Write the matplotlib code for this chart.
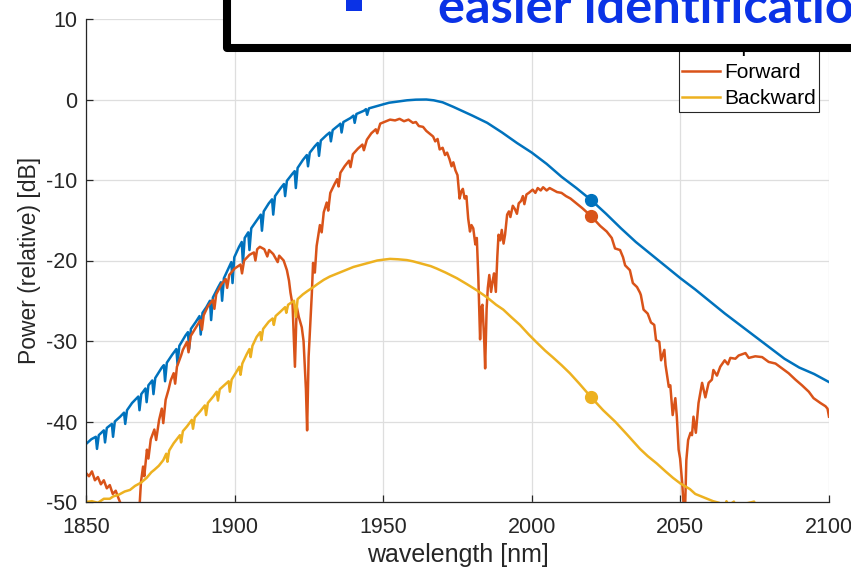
import matplotlib
matplotlib.use("Agg")
import matplotlib.pyplot as plt
from matplotlib.patches import Rectangle

# ---------------- data ----------------
input_wl = [1850.0, 1851.8, 1853.3, 1853.7, 1854.3, 1856.0, 1856.4, 1857.0,
            1858.7, 1859.1, 1859.7, 1861.5, 1862.8, 1863.2, 1863.8,
            1865.5, 1867.6, 1868.0, 1868.6, 1870.0, 1870.4, 1871.0,
            1872.3, 1872.7, 1873.3, 1875.5, 1876.2, 1876.6, 1877.2,
            1879.0, 1880.4, 1880.8, 1881.4, 1883.5, 1884.3, 1884.7, 1885.3,
            1887.0, 1888.2, 1888.6, 1889.2, 1890.5, 1891.7, 1892.1, 1892.7,
            1894.5, 1895.4, 1895.8, 1896.4, 1898.0, 1898.9, 1899.3, 1899.9,
            1901.5, 1902.4, 1902.8, 1903.4, 1904.6, 1905.0, 1905.6,
            1907.5, 1908.8, 1909.2, 1909.8, 1911.5, 1912.6, 1913.0, 1913.6,
            1915.5, 1916.6, 1917.0, 1917.6, 1919.5, 1920.2, 1920.6, 1921.2,
            1923.0, 1924.3, 1924.7, 1925.3, 1927.0, 1928.0, 1928.4, 1929.0,
            1931.0, 1932.0, 1932.4, 1933.0, 1935.0, 1935.6, 1936.0, 1936.6,
            1939.0, 1940.0, 1940.4, 1941.0, 1943.5, 1944.2, 1944.6, 1945.2,
            1948.0, 1950.0, 1952.0, 1955.0, 1958.0, 1961.0, 1964.5, 1967.0,
            1970.0, 1973.5, 1977.0, 1980.0, 1985.0, 1990.0, 1995.0, 2000.0,
            2005.0, 2010.0, 2015.0, 2020.0, 2025.0, 2030.0, 2035.0, 2040.0,
            2045.0, 2050.0, 2055.0, 2060.0, 2065.0, 2070.0, 2075.0, 2080.0,
            2085.0, 2090.0, 2095.0, 2100.0]
input_db = [-42.8, -42.2, -41.9, -43.4, -41.7, -41.1, -42.6, -40.8,
            -40.3, -41.9, -40.0, -39.4, -38.9, -40.3, -38.6,
            -37.7, -36.9, -38.6, -36.6, -35.9, -37.6, -35.5,
            -34.9, -36.6, -34.6, -33.3, -33.0, -35.0, -32.7,
            -31.7, -31.0, -32.9, -30.6, -29.3, -28.9, -31.0, -28.5,
            -27.6, -26.9, -29.2, -26.5, -25.8, -25.0, -27.4, -24.6,
            -23.3, -22.7, -25.0, -22.2, -20.9, -20.2, -22.8, -19.6,
            -18.3, -17.7, -20.3, -17.2, -16.5, -18.7, -16.0,
            -15.0, -14.3, -16.3, -13.9, -12.9, -12.4, -14.3, -12.0,
            -11.0, -10.5, -12.0, -10.1, -9.2, -8.9, -11.0, -8.5,
            -7.5, -6.9, -8.3, -6.6, -5.8, -5.4, -7.0, -5.1,
            -4.4, -4.1, -5.2, -3.8, -3.2, -3.0, -4.1, -2.8,
            -2.3, -2.0, -2.9, -1.8, -1.4, -1.2, -1.9, -1.1,
            -0.8, -0.6, -0.4, -0.25, -0.1, -0.02, 0.0, -0.1,
            -0.35, -0.9, -1.5, -2.0, -2.9, -4.1, -5.4, -6.6,
            -8.0, -9.6, -11.0, -12.5, -14.2, -16.0, -17.7, -19.2,
            -20.7, -22.2, -23.6, -25.1, -26.6, -28.0, -29.4, -30.8,
            -32.2, -33.3, -34.1, -35.1]

forward_wl = [1850.0, 1851.0, 1852.0, 1853.0, 1854.0, 1855.0, 1856.0, 1857.0,
              1858.0, 1859.0, 1860.0, 1861.0, 1862.0, 1863.0, 1864.5, 1865.5,
              1866.5, 1867.2, 1868.0, 1868.5, 1869.2, 1869.6, 1870.5, 1871.0,
              1871.8, 1873.0, 1873.6, 1874.6, 1875.5, 1876.0, 1876.8, 1877.8,
              1878.5, 1879.5, 1880.0, 1880.6, 1882.0, 1882.6, 1884.0, 1884.5,
              1885.2, 1887.0, 1888.5, 1889.0, 1889.6, 1891.0, 1892.7, 1893.2,
              1893.8, 1895.5, 1897.0, 1897.5, 1898.2, 1900.0, 1902.0, 1902.5,
              1903.2, 1905.0, 1906.5, 1907.0, 1907.6, 1908.5, 1910.0, 1911.0,
              1911.6, 1913.0, 1914.5, 1915.0, 1916.5, 1917.6, 1918.3, 1918.8,
              1919.5, 1920.3, 1920.9, 1921.6, 1922.6, 1923.2, 1924.0, 1924.4,
              1924.9, 1925.4, 1926.0, 1926.4, 1927.0, 1927.6, 1928.7, 1929.3,
              1930.0, 1931.0, 1931.5, 1932.2, 1933.5, 1934.5, 1935.0, 1935.6,
              1937.0, 1938.5, 1939.0, 1939.8, 1941.5, 1943.0, 1943.5, 1944.5,
              1946.0, 1947.5, 1948.0, 1949.0, 1951.0, 1952.3, 1954.0, 1955.5,
              1957.0, 1958.5, 1960.0, 1961.0, 1962.0, 1963.4, 1964.5, 1965.5,
              1966.8, 1967.5, 1968.3, 1969.0, 1970.0, 1970.8, 1971.5, 1972.3,
              1973.0, 1973.6, 1974.3, 1975.0, 1975.7, 1976.3, 1976.8, 1977.4,
              1978.0, 1978.6, 1979.2, 1979.7, 1980.3, 1981.0, 1981.5, 1982.0,
              1982.6, 1983.0, 1983.4, 1984.0, 1984.3, 1984.8, 1985.2, 1985.7,
              1986.3, 1986.8, 1987.3, 1987.9, 1988.4, 1988.8, 1989.4, 1989.9,
              1990.5, 1991.0, 1991.7, 1992.3, 1992.8, 1993.6, 1994.3, 1995.0,
              1995.6, 1996.4, 1997.0, 1997.5, 1998.2, 1999.0, 2000.3, 2001.2,
              2002.0, 2003.0, 2003.8, 2005.0, 2006.0, 2007.0, 2008.5, 2010.0,
              2011.5, 2013.0, 2015.0, 2017.0, 2018.5, 2020.0, 2021.5, 2023.0,
              2025.2, 2026.9, 2028.0, 2029.7, 2030.7, 2031.4, 2033.0, 2034.0,
              2035.4, 2036.4, 2036.7, 2037.6, 2039.0, 2040.1, 2041.2, 2041.8,
              2042.9, 2043.5, 2044.6, 2045.0, 2046.1, 2046.6, 2047.4, 2048.3,
              2048.8, 2049.4, 2049.9, 2050.6, 2051.1, 2051.5, 2052.0, 2052.6,
              2053.4, 2053.9, 2054.4, 2055.2, 2056.1, 2057.3, 2058.4, 2059.5,
              2060.6, 2061.1, 2062.3, 2063.4, 2064.9, 2066.0, 2066.8, 2068.5,
              2069.6, 2071.9, 2073.0, 2075.2, 2077.5, 2079.7, 2082.0, 2084.2,
              2086.4, 2088.7, 2090.9, 2093.2, 2094.8, 2097.1, 2098.8, 2099.5,
              2100.0]
forward_db = [-46.4, -46.8, -46.2, -47.3, -46.9, -47.8, -47.3, -48.3,
              -47.9, -49.0, -48.6, -49.6, -50.5, -51.5, -53.0, -52.0,
              -51.5, -52.5, -50.6, -47.5, -45.6, -46.8, -43.5, -44.6,
              -42.2, -41.0, -42.3, -39.8, -38.4, -40.2, -37.3, -36.0,
              -34.9, -34.0, -35.3, -33.2, -31.8, -31.1, -30.1, -31.4,
              -29.4, -28.3, -27.4, -28.6, -26.8, -25.7, -24.9, -26.0,
              -24.2, -23.0, -22.3, -23.4, -21.8, -21.0, -20.5, -21.6,
              -20.0, -19.3, -19.0, -20.0, -18.6, -18.3, -18.6, -19.5,
              -18.7, -19.2, -20.2, -19.4, -20.0, -21.2, -22.5, -24.0,
              -25.5, -33.2, -25.7, -27.0, -28.3, -30.0, -36.0, -41.1,
              -32.0, -28.3, -24.0, -20.3, -21.5, -18.2, -15.6, -16.5,
              -14.0, -12.8, -13.8, -11.6, -10.6, -9.9, -10.8, -9.1,
              -8.3, -7.6, -8.4, -6.8, -6.1, -5.6, -6.3, -5.0,
              -4.2, -3.7, -4.2, -3.0, -2.7, -2.5, -2.6, -2.4,
              -2.7, -2.5, -2.9, -2.8, -3.3, -3.4, -3.9, -4.2,
              -4.6, -5.2, -4.9, -6.2, -6.0, -6.9, -6.6, -7.4,
              -8.3, -7.8, -8.8, -9.4, -12.3, -11.4, -11.1, -12.3,
              -12.0, -14.8, -16.4, -15.6, -16.0, -18.0, -17.2, -22.0,
              -29.8, -25.8, -25.5, -30.0, -33.4, -26.0, -23.4, -21.8,
              -23.9, -22.6, -21.6, -23.9, -19.5, -16.8, -17.5, -16.2,
              -17.9, -16.8, -14.3, -13.9, -14.6, -13.2, -13.6, -14.2,
              -12.9, -12.6, -12.0, -13.0, -11.8, -11.6, -11.2, -11.6,
              -11.0, -11.3, -10.9, -11.3, -11.0, -11.2, -11.5, -11.6,
              -12.0, -12.3, -12.9, -13.5, -14.0, -14.5, -15.1, -15.7,
              -16.4, -17.2, -18.5, -18.7, -19.6, -20.6, -21.2, -22.8,
              -23.3, -24.0, -24.3, -26.1, -26.6, -27.7, -28.0, -29.9,
              -30.1, -32.4, -31.1, -33.0, -35.7, -35.5, -39.2, -37.1,
              -39.4, -43.5, -44.6, -47.6, -50.5, -52.0, -44.8, -42.3,
              -41.4, -41.7, -39.4, -41.4, -37.7, -35.2, -37.0, -35.2,
              -34.8, -33.6, -34.3, -33.2, -32.4, -32.9, -32.1, -32.2,
              -31.8, -31.5, -32.1, -31.9, -32.0, -32.6, -32.8, -33.4,
              -34.0, -34.8, -35.5, -36.3, -37.1, -37.7, -38.1, -38.4,
              -39.4]

backward_wl = [1850.0, 1852.0, 1854.0, 1856.0, 1858.0, 1859.2, 1861.0, 1863.0,
               1864.8, 1866.5, 1868.5, 1870.4, 1872.0, 1873.0, 1874.5, 1876.0,
               1877.0, 1877.4, 1878.0, 1879.5, 1881.6, 1882.0, 1882.6, 1884.0,
               1885.6, 1886.0, 1886.6, 1888.5, 1890.0, 1890.4, 1891.0, 1892.8,
               1894.0, 1894.4, 1895.0, 1896.8, 1898.0, 1898.4, 1899.0, 1900.5,
               1901.6, 1902.0, 1902.6, 1904.0, 1905.0, 1905.4, 1906.0, 1907.4,
               1908.6, 1909.0, 1909.6, 1911.5, 1912.8, 1913.2, 1913.8, 1915.3,
               1917.0, 1917.4, 1918.0, 1920.0, 1920.6, 1921.2, 1923.0, 1924.5,
               1926.5, 1928.0, 1930.0, 1932.0, 1934.0, 1936.0, 1938.0, 1940.0,
               1942.0, 1944.0, 1946.0, 1948.0, 1950.0, 1952.3, 1955.0, 1958.0,
               1960.0, 1963.0, 1966.0, 1968.0, 1971.0, 1974.8, 1978.0, 1981.5,
               1985.0, 1988.0, 1990.4, 1993.0, 1996.0, 1999.0, 2001.7, 2004.5,
               2007.0, 2010.0, 2012.8, 2016.0, 2020.0, 2024.0, 2028.0, 2032.0,
               2036.4, 2039.0, 2042.0, 2045.0, 2047.5, 2050.0, 2053.2, 2055.0,
               2057.0, 2059.0, 2061.0, 2063.0, 2065.0, 2065.5, 2066.2, 2068.0,
               2068.5, 2074.8, 2075.3, 2080.0, 2100.0]
backward_db = [-50.0, -49.9, -50.1, -49.6, -49.6, -49.3, -49.1, -48.7,
               -48.5, -48.0, -47.6, -47.0, -46.3, -46.0, -45.5, -44.8,
               -44.0, -45.0, -43.6, -42.7, -41.7, -42.6, -41.2, -40.6,
               -39.8, -40.9, -39.5, -38.7, -38.0, -39.2, -37.7, -36.9,
               -36.3, -37.4, -36.0, -35.4, -35.0, -36.3, -34.8, -33.9,
               -33.2, -34.2, -32.8, -31.7, -31.0, -32.0, -30.6, -29.5,
               -28.9, -29.9, -28.5, -27.6, -27.2, -28.0, -26.9, -26.4,
               -25.8, -26.5, -25.5, -25.0, -27.0, -24.8, -24.2, -23.8,
               -23.3, -22.9, -22.4, -22.0, -21.7, -21.4, -21.1, -20.8,
               -20.6, -20.4, -20.2, -20.0, -19.9, -19.8, -19.85, -19.95,
               -20.1, -20.4, -20.7, -21.0, -21.5, -22.2, -22.9, -23.7,
               -24.6, -25.5, -26.1, -27.0, -28.0, -29.2, -30.2, -31.2,
               -32.0, -33.0, -34.0, -35.3, -37.0, -38.6, -40.0, -41.6,
               -43.4, -44.3, -45.2, -46.2, -47.0, -47.7, -48.4, -49.0,
               -49.3, -49.6, -49.9, -50.1, -50.6, -49.9, -50.4, -49.95,
               -50.5, -49.95, -50.5, -52.0, -57.0]

series_labels = ["Input", "Forward", "Backward"]
marker_wl = 2020
marker_db = [-12.5, -14.5, -37.0]

x_ticks = [1850, 1900, 1950, 2000, 2050, 2100]
y_ticks = [-50, -40, -30, -20, -10, 0, 10]
x_label = "wavelength [nm]"
y_label = "Power (relative) [dB]"
overlay_text = "easier identification"

# ---------------- styling ----------------
W, H = 851, 572
DPI = 100
colors = ["#0072BD", "#D95319", "#EDB120"]
axis_col = "#262626"
blue_txt = "#0A32E6"

plt.rcParams["font.family"] = ["Liberation Sans", "DejaVu Sans"]
plt.rcParams["axes.unicode_minus"] = False

fig = plt.figure(figsize=(W / DPI, H / DPI), dpi=DPI)
ax_l, ax_r, ax_t, ax_b = 86, 829, 19, 502
ax = fig.add_axes([ax_l / W, 1 - ax_b / H, (ax_r - ax_l) / W, (ax_b - ax_t) / H])

lw = 1.8
series = [(input_wl, input_db), (forward_wl, forward_db), (backward_wl, backward_db)]
for (xs, ys), c, lab in zip(series, colors, series_labels):
    ax.plot(xs, ys, color=c, lw=lw, label=lab, solid_joinstyle="round")
for v, c in zip(marker_db, colors):
    ax.plot([marker_wl], [v], "o", color=c, ms=8.5, zorder=5)

ax.set_xlim(1850, 2100)
ax.set_ylim(-50, 10)
ax.set_xticks(x_ticks)
ax.set_yticks(y_ticks)
ax.grid(True, color="#dedede", lw=0.9)
ax.set_axisbelow(True)
for s in ["top", "right"]:
    ax.spines[s].set_visible(False)
for s in ["left", "bottom"]:
    ax.spines[s].set_color(axis_col)
    ax.spines[s].set_linewidth(0.9)
ax.tick_params(direction="in", length=5, width=0.9, colors=axis_col,
               labelsize=15.5, labelcolor=axis_col)
ax.tick_params(axis="x", pad=11)
ax.tick_params(axis="y", pad=6)
ax.set_xlabel(x_label, fontsize=18, color=axis_col, va="center")
ax.set_ylabel(y_label, fontsize=16.5, color=axis_col, va="center")
ax.xaxis.set_label_coords(0.5, (ax_b - 555) / (ax_b - ax_t))
ax.yaxis.set_label_coords((29 - ax_l) / (ax_r - ax_l), 0.5)

leg = ax.legend(loc="lower right", bbox_to_anchor=(819.3 / W, 1 - 111.7 / H),
                bbox_transform=fig.transFigure, borderaxespad=0, fontsize=15,
                frameon=True, fancybox=False, framealpha=1, handlelength=1.83,
                handletextpad=0.18, borderpad=0.16, labelspacing=0.34)
leg.get_frame().set_edgecolor(axis_col)
leg.get_frame().set_linewidth(0.8)

# ---------------- overlay slide box ----------------
box = Rectangle((227 / W, 1 - 48 / H), 1.0, 0.2, transform=fig.transFigure,
                facecolor="white", edgecolor="black", lw=5.8, zorder=10,
                clip_on=False, joinstyle="round")
fig.patches.append(box)
bullet = Rectangle((346 / W, 1 - 10.7 / H), 16 / W, 0.05, transform=fig.transFigure,
                   facecolor=blue_txt, edgecolor="none", zorder=11)
fig.patches.append(bullet)

fig.canvas.draw()
r = fig.canvas.get_renderer()
probe = fig.text(0, 0, overlay_text[:-1], fontsize=30, fontweight="bold",
                 family=["Lato", "DejaVu Sans"])
wpx = probe.get_window_extent(renderer=r).width
probe.remove()
fs = 30 * 415 / wpx
fig.text(438 / W, 1 - 23 / H, overlay_text, fontsize=fs, fontweight="bold",
         family=["Lato", "DejaVu Sans"], color=blue_txt, ha="left", va="baseline",
         zorder=12)

fig.savefig("out.png", dpi=DPI)
